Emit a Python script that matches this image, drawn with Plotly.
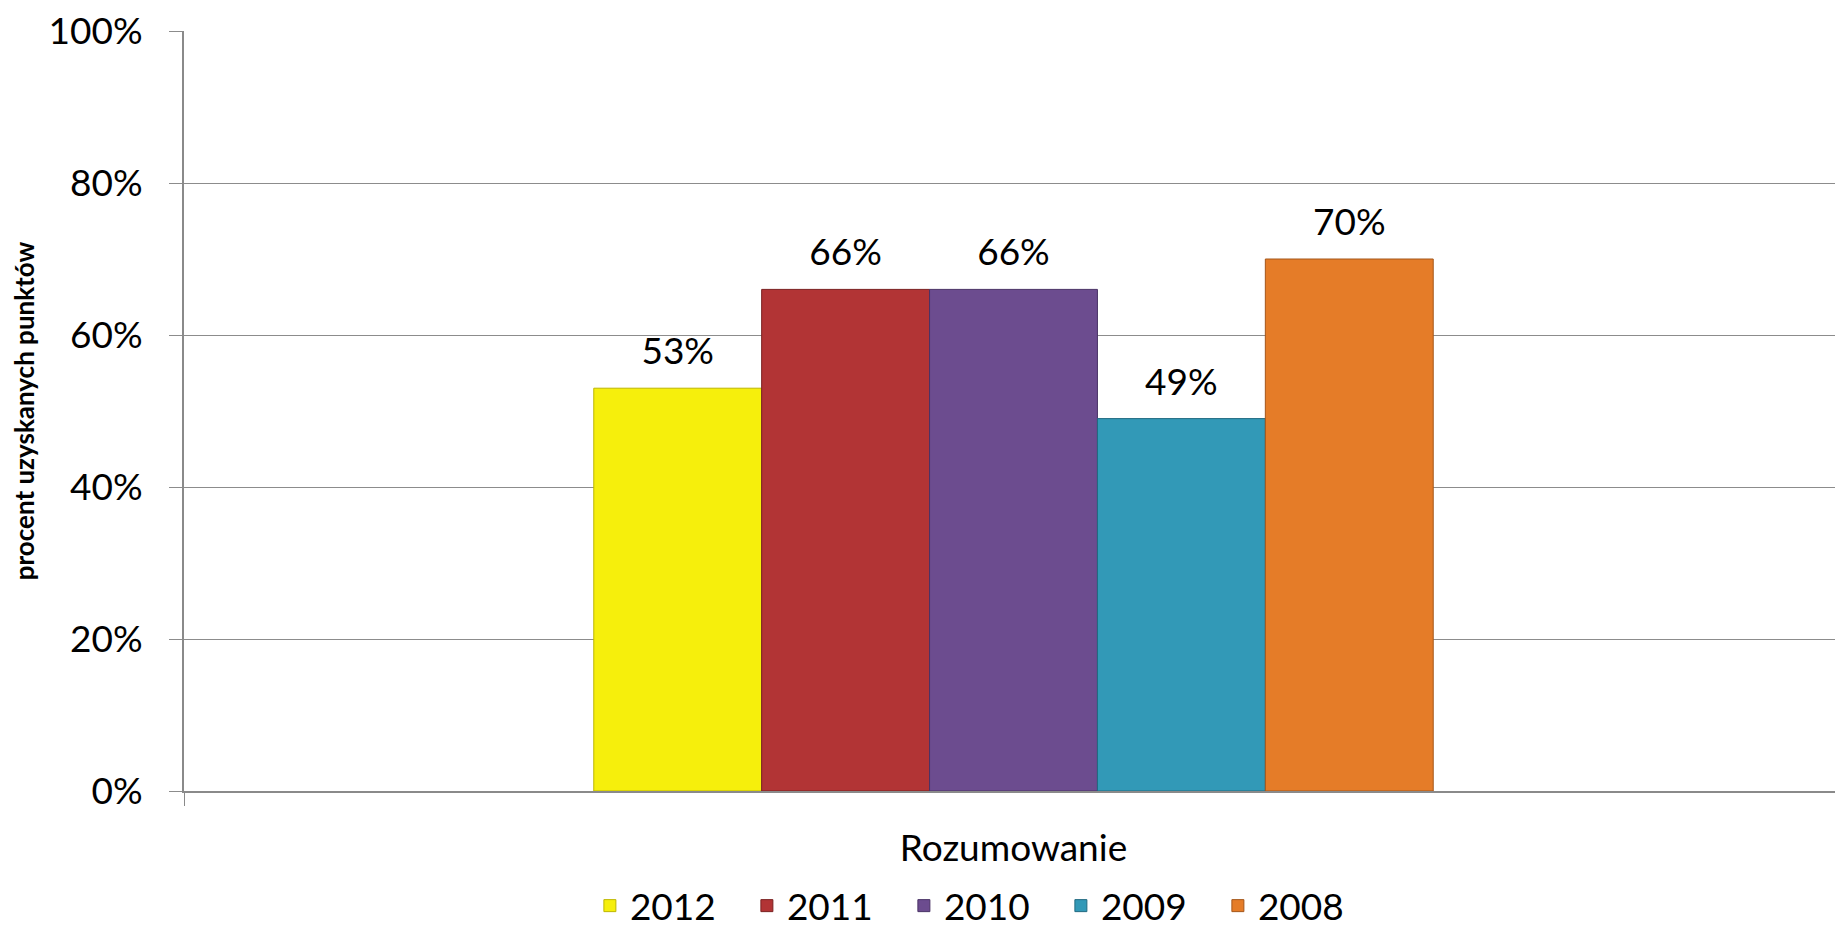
import plotly.graph_objects as go

# one category, five yearly series
category = ["Rozumowanie"]
years = ["2012", "2011", "2010", "2009", "2008"]
values = [0.53, 0.66, 0.66, 0.49, 0.70]
colors = ["#F6EF0C", "#B23435", "#6C4C8F", "#3299B7", "#E57C28"]
edges = ["#BDB600", "#7A2021", "#4A3366", "#216A80", "#A4561A"]

FONT = "Lato, Carlito, Calibri, sans-serif"
GAP = 0.494

traces = []
for yr, v, c, e in zip(years, values, colors, edges):
    traces.append(go.Bar(
        x=category,
        y=[v],
        name=yr,
        marker=dict(color=c, line=dict(color=e, width=1)),
    ))

# value labels, grouped the same way as the bars, a little above each bar
for yr, v in zip(years, values):
    traces.append(go.Scatter(
        x=category,
        y=[v],
        mode="markers+text",
        marker=dict(size=22, opacity=0),
        text=[f"{v:.0%}"],
        textposition="top center",
        textfont=dict(size=37, color="black", family=FONT),
        showlegend=False,
        hoverinfo="skip",
        cliponaxis=False,
    ))

# page body has an 8px margin, so the figure is a bit smaller than the window
layout = go.Layout(
    width=1835,
    height=923,
    margin=dict(l=176, r=0, t=23, b=140),
    paper_bgcolor="white",
    plot_bgcolor="white",
    barmode="group",
    bargap=GAP,
    bargroupgap=0,
    scattermode="group",
    scattergap=GAP,
    font=dict(family=FONT, size=37, color="black"),
    xaxis=dict(
        automargin=False,
        showline=True,
        linecolor="#8A8A8A",
        linewidth=2,
        ticks="outside",
        tickson="boundaries",
        ticklen=13,
        tickcolor="#8A8A8A",
        tickfont=dict(size=37),
        ticklabelstandoff=24,
    ),
    yaxis=dict(
        automargin=False,
        range=[0, 1],
        dtick=0.2,
        tickformat=".0%",
        ticklabeloverflow="allow",
        showgrid=True,
        gridcolor="#8C8C8C",
        gridwidth=1,
        showline=True,
        linecolor="#8A8A8A",
        linewidth=2,
        ticks="outside",
        ticklen=13,
        tickcolor="#8C8C8C",
        tickfont=dict(size=37),
        ticklabelstandoff=19,
        zeroline=False,
        title=dict(
            text="<b>procent uzyskanych punktów</b>",
            font=dict(size=26, family=FONT),
            standoff=16,
        ),
    ),
    legend=dict(
        orientation="h",
        xref="container",
        yref="container",
        x=0.531,
        y=0.027,
        xanchor="center",
        yanchor="middle",
        font=dict(size=37),
        entrywidth=112,
        itemwidth=30,
    ),
    showlegend=True,
)

fig = go.Figure(data=traces, layout=layout)
fig.write_html("out.html")
